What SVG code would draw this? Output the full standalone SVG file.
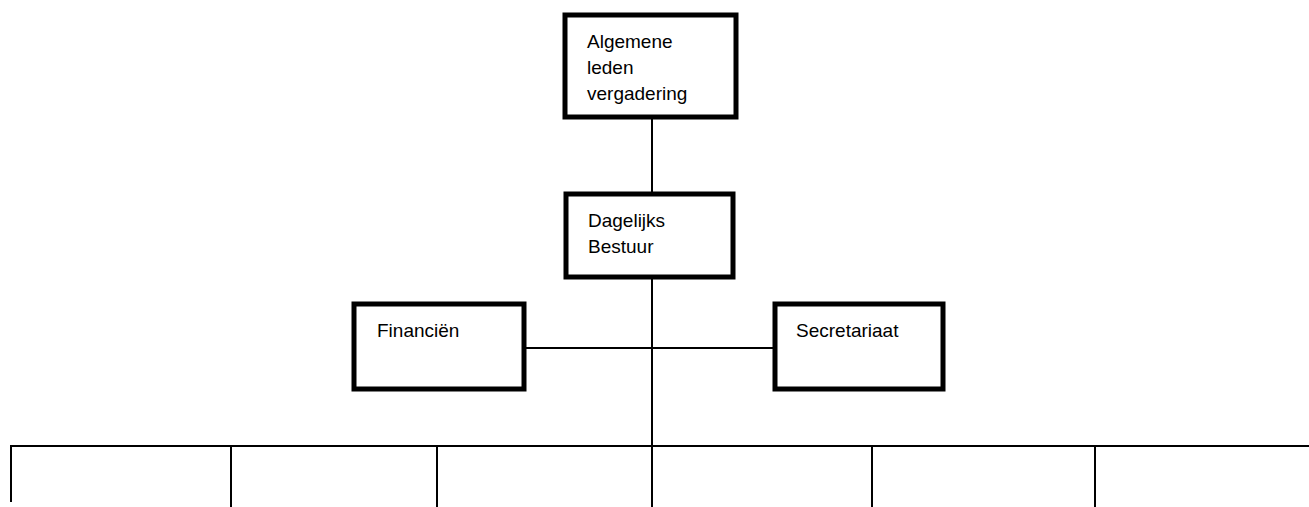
<svg xmlns="http://www.w3.org/2000/svg" width="1309" height="507" viewBox="0 0 1309 507">
<style>
.box{fill:#fff;stroke:#000;stroke-width:5}
.ln{stroke:#000;stroke-width:2;fill:none}
text{font-family:"Liberation Sans",Arial,sans-serif;font-size:19px;fill:#000}
</style>
<rect width="1309" height="507" fill="#fff"/>
<g id="connectors">
<line class="ln" x1="652" y1="118" x2="652" y2="193"/>
<line class="ln" x1="652" y1="278" x2="652" y2="446"/>
<line class="ln" x1="525" y1="348" x2="774" y2="348"/>
<line class="ln" x1="10" y1="446" x2="1309" y2="446"/>
<line class="ln" x1="11" y1="445" x2="11" y2="502"/>
<line class="ln" x1="231" y1="445" x2="231" y2="507"/>
<line class="ln" x1="437" y1="445" x2="437" y2="507"/>
<line class="ln" x1="652" y1="445" x2="652" y2="507"/>
<line class="ln" x1="872" y1="445" x2="872" y2="507"/>
<line class="ln" x1="1095" y1="445" x2="1095" y2="507"/>
</g>
<g id="alv">
<rect class="box" x="565" y="15" width="171" height="102"/>
<text x="587" y="48">Algemene</text>
<text x="587" y="74">leden</text>
<text x="587" y="100">vergadering</text>
</g>
<g id="db">
<rect class="box" x="566" y="194" width="167" height="83"/>
<text x="588" y="227">Dagelijks</text>
<text x="588" y="253">Bestuur</text>
</g>
<g id="fin">
<rect class="box" x="354" y="304" width="170" height="85"/>
<text x="377" y="337">Financiën</text>
</g>
<g id="sec">
<rect class="box" x="775" y="304" width="168" height="85"/>
<text x="796" y="337">Secretariaat</text>
</g>
</svg>
